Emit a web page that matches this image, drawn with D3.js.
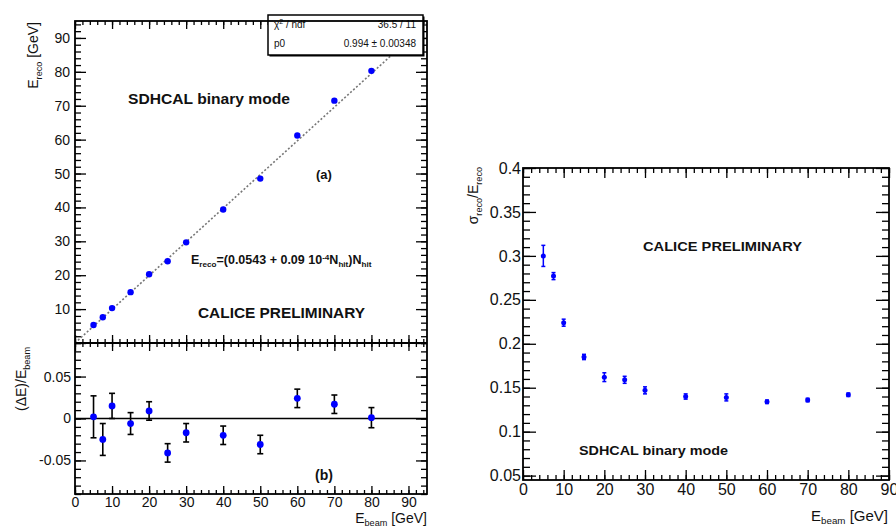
<!DOCTYPE html>
<html>
<head>
<meta charset="utf-8">
<script src="https://cdn.jsdelivr.net/npm/d3@7"></script>
<style>
  body { margin: 0; background: #fff; }
  svg { display: block; }
</style>
</head>
<body>
<svg id="chart" width="896" height="529"></svg>
<script>
const energies   = [5, 7.5, 10, 15, 20, 25, 30, 40, 50, 60, 70, 80];
const eReco      = [5.3, 7.6, 10.3, 15.0, 20.3, 24.1, 29.7, 39.4, 48.5, 61.2, 71.5, 80.3];
const deltaE     = [0.002, -0.025, 0.015, -0.006, 0.009, -0.041, -0.017, -0.020, -0.031, 0.024, 0.017, 0.001];
const deltaErr   = [0.025, 0.019, 0.015, 0.013, 0.011, 0.011, 0.011, 0.011, 0.011, 0.011, 0.011, 0.012];
const resolution = [0.300, 0.277, 0.224, 0.185, 0.162, 0.159, 0.147, 0.140, 0.139, 0.134, 0.136, 0.142];
const resErr     = [0.012, 0.004, 0.004, 0.003, 0.005, 0.004, 0.004, 0.003, 0.004, 0.002, 0.002, 0.002];
const fitSlope = 0.994;
const statsRows = [["χ2 / ndf", "36.5 / 11"], ["p0", "0.994 ± 0.00348"]];

const FONT = "'Liberation Sans', Arial, Helvetica, sans-serif";
const svg = d3.select("#chart");
svg.append("rect").attr("width", 896).attr("height", 529).attr("fill", "#fff");

// scales
const xL = d3.scaleLinear().domain([0, 95]).range([75, 427]);
const yTop = d3.scaleLinear().domain([0, 95]).range([343, 21]);
const yRes = d3.scaleLinear().domain([-0.09, 0.09]).range([494, 343]);
const xR = d3.scaleLinear().domain([0, 90]).range([523, 889]);
const yR = d3.scaleLinear().domain([0.045, 0.4]).range([480, 168]);

function fmtNum(d) { return String(+d.toFixed(2)); }

function addAxis(gen, scale, tx, ty, values, size, fmt, fs, pad) {
    const a = gen(scale).tickValues(values).tickSize(size).tickPadding(pad || 3)
        .tickFormat(fmt || "");
    const sel = svg.append("g").attr("transform", "translate(" + tx + "," + ty + ")").call(a);
    sel.select(".domain").remove();
    sel.selectAll("line").attr("stroke", "#000").attr("stroke-width", 1.3);
    sel.selectAll("text").attr("font-size", fs || 13).attr("font-family", FONT).attr("fill", "#111");
    return sel;
}

// ---- left top panel: E_reco vs E_beam ----
addAxis(d3.axisLeft, yTop, 75, 0, yTop.ticks(48), -6);
addAxis(d3.axisLeft, yTop, 75, 0, yTop.ticks(10), -11, d => d === 0 ? "" : d, 14, 5);
addAxis(d3.axisRight, yTop, 427, 0, yTop.ticks(48), -6);
addAxis(d3.axisRight, yTop, 427, 0, yTop.ticks(10), -11);
addAxis(d3.axisTop, xL, 0, 21, xL.ticks(48), -4);
addAxis(d3.axisTop, xL, 0, 21, xL.ticks(10), -8);
addAxis(d3.axisBottom, xL, 0, 343, xL.ticks(48), -4);
addAxis(d3.axisBottom, xL, 0, 343, xL.ticks(10), -8);

// fit line
const clip = svg.append("clipPath").attr("id", "clipTop");
clip.append("rect").attr("x", 75).attr("y", 21).attr("width", 352).attr("height", 322);
svg.append("line")
    .attr("clip-path", "url(#clipTop)")
    .attr("x1", xL(0)).attr("y1", yTop(0))
    .attr("x2", xL(95)).attr("y2", yTop(95 * fitSlope))
    .attr("stroke", "#777").attr("stroke-width", 1.6).attr("stroke-dasharray", "2,2");

svg.append("g").selectAll("circle").data(energies).join("circle")
    .attr("cx", d => xL(d)).attr("cy", (d, i) => yTop(eReco[i]))
    .attr("r", 3.2).attr("fill", "#0000ff");

// stats box
const sb = svg.append("g");
sb.append("rect").attr("x", 269.5).attr("y", 16.5).attr("width", 155).attr("height", 40).attr("fill", "#000");
sb.append("rect").attr("x", 268).attr("y", 15).attr("width", 155).attr("height", 40)
    .attr("fill", "#fff").attr("stroke", "#000").attr("stroke-width", 1.5);
statsRows.forEach((r, i) => {
    const t = sb.append("text").attr("x", 274).attr("y", 28 + i * 19)
        .attr("font-family", FONT).attr("font-size", 10).attr("fill", "#111");
    if (i === 0) {
        t.append("tspan").text("χ");
        t.append("tspan").attr("font-size", 7).attr("dy", -4).text("2");
        t.append("tspan").attr("dy", 4).text(" / ndf");
    } else {
        t.text(r[0]);
    }
    sb.append("text").attr("x", 416).attr("y", 28 + i * 19).attr("text-anchor", "end")
        .attr("font-family", FONT).attr("font-size", 10).attr("fill", "#111").text(r[1]);
});

function label(x, y, size, parts, opts) {
    opts = opts || {};
    const t = svg.append("text").attr("x", x).attr("y", y)
        .attr("font-family", FONT).attr("font-size", size).attr("fill", "#111")
        .attr("font-weight", opts.bold ? "bold" : null)
        .attr("text-anchor", opts.anchor || "start");
    if (opts.rotate) t.attr("transform", "rotate(-90," + x + "," + y + ")");
    let shift = 0;
    parts.forEach(p => {
        const s = typeof p === "string" ? { t: p, v: 0 } : p;
        const dy = s.v - shift;
        shift = s.v;
        t.append("tspan").attr("dy", dy).attr("font-size", s.v ? size * 0.65 : null).text(s.t);
    });
    if (opts.len) t.attr("textLength", opts.len).attr("lengthAdjust", "spacingAndGlyphs");
    return t;
}

label(128, 104, 15, ["SDHCAL binary mode"], { bold: true, len: 162 });
label(316, 179, 13, ["(a)"], { bold: true });
label(191, 264, 12.5, ["E", { t: "reco", v: 3 }, "=(0.0543 + 0.09 10", { t: "-4", v: -4 }, "N", { t: "hit", v: 3 }, ")N", { t: "hit", v: 3 }], { bold: true });
label(198, 318, 15, ["CALICE PRELIMINARY"], { bold: true, len: 167 });
label(38, 22, 14, ["E", { t: "reco", v: 4 }, " [GeV]"], { rotate: true, anchor: "end" });

// ---- left bottom panel: residuals ----
addAxis(d3.axisLeft, yRes, 75, 0, yRes.ticks(18), -6);
addAxis(d3.axisLeft, yRes, 75, 0, yRes.ticks(4), -11, fmtNum, 14, 4);
addAxis(d3.axisRight, yRes, 427, 0, yRes.ticks(18), -6);
addAxis(d3.axisRight, yRes, 427, 0, yRes.ticks(4), -11);
addAxis(d3.axisTop, xL, 0, 343, xL.ticks(48), -4);
addAxis(d3.axisTop, xL, 0, 343, xL.ticks(10), -8);
addAxis(d3.axisBottom, xL, 0, 494, xL.ticks(48), -4);
addAxis(d3.axisBottom, xL, 0, 494, xL.ticks(10), -8, d => d, 14, 3);

svg.append("line").attr("x1", xL(0)).attr("x2", xL(95)).attr("y1", yRes(0)).attr("y2", yRes(0))
    .attr("stroke", "#000").attr("stroke-width", 1.6);

const eb = svg.append("g").attr("stroke", "#000").attr("stroke-width", 1.6);
energies.forEach((e, i) => {
    const x = xL(e), y1 = yRes(deltaE[i] - deltaErr[i]), y2 = yRes(deltaE[i] + deltaErr[i]);
    eb.append("line").attr("x1", x).attr("x2", x).attr("y1", y1).attr("y2", y2);
    eb.append("line").attr("x1", x - 3).attr("x2", x + 3).attr("y1", y1).attr("y2", y1);
    eb.append("line").attr("x1", x - 3).attr("x2", x + 3).attr("y1", y2).attr("y2", y2);
});
svg.append("g").selectAll("circle").data(energies).join("circle")
    .attr("cx", d => xL(d)).attr("cy", (d, i) => yRes(deltaE[i]))
    .attr("r", 3.4).attr("fill", "#0000ff");

label(315, 480, 14, ["(b)"], { bold: true });
label(26, 347, 14, ["(ΔE)/E", { t: "beam", v: 4 }], { rotate: true, anchor: "end" });
label(427, 523, 14, ["E", { t: "beam", v: 3 }, " [GeV]"], { anchor: "end" });

// frames
svg.append("rect").attr("x", 75).attr("y", 21).attr("width", 352).attr("height", 473)
    .attr("fill", "none").attr("stroke", "#000").attr("stroke-width", 1.8);
svg.append("line").attr("x1", 75).attr("x2", 427).attr("y1", 343).attr("y2", 343)
    .attr("stroke", "#000").attr("stroke-width", 1.8);

// ---- right panel: resolution ----
addAxis(d3.axisLeft, yR, 523, 0, yR.ticks(35), -7);
addAxis(d3.axisLeft, yR, 523, 0, yR.ticks(7), -13, fmtNum, 16, 2);
addAxis(d3.axisRight, yR, 889, 0, yR.ticks(35), -7);
addAxis(d3.axisRight, yR, 889, 0, yR.ticks(7), -13);
addAxis(d3.axisTop, xR, 0, 168, xR.ticks(45), -5);
addAxis(d3.axisTop, xR, 0, 168, xR.ticks(9), -10);
addAxis(d3.axisBottom, xR, 0, 480, xR.ticks(45), -5);
addAxis(d3.axisBottom, xR, 0, 480, xR.ticks(9), -10, d => d, 16, 4);

const rb = svg.append("g").attr("stroke", "#0000ff").attr("stroke-width", 1.5);
energies.forEach((e, i) => {
    const x = xR(e), y1 = yR(resolution[i] - resErr[i]), y2 = yR(resolution[i] + resErr[i]);
    rb.append("line").attr("x1", x).attr("x2", x).attr("y1", y1).attr("y2", y2);
    rb.append("line").attr("x1", x - 2).attr("x2", x + 2).attr("y1", y1).attr("y2", y1);
    rb.append("line").attr("x1", x - 2).attr("x2", x + 2).attr("y1", y2).attr("y2", y2);
});
svg.append("g").selectAll("circle").data(energies).join("circle")
    .attr("cx", d => xR(d)).attr("cy", (d, i) => yR(resolution[i]))
    .attr("r", 2.5).attr("fill", "#0000ff");

svg.append("rect").attr("x", 523).attr("y", 168).attr("width", 366).attr("height", 312)
    .attr("fill", "none").attr("stroke", "#000").attr("stroke-width", 1.8);

label(643, 251, 13, ["CALICE PRELIMINARY"], { bold: true, len: 159 });
label(579, 455, 13, ["SDHCAL binary mode"], { bold: true, len: 149 });
label(478, 167, 14, ["σ", { t: "reco", v: 4 }, "/E", { t: "reco", v: 4 }], { rotate: true, anchor: "end" });
label(888, 521, 15, ["E", { t: "beam", v: 3 }, " [GeV]"], { anchor: "end" });
</script>
</body>
</html>
